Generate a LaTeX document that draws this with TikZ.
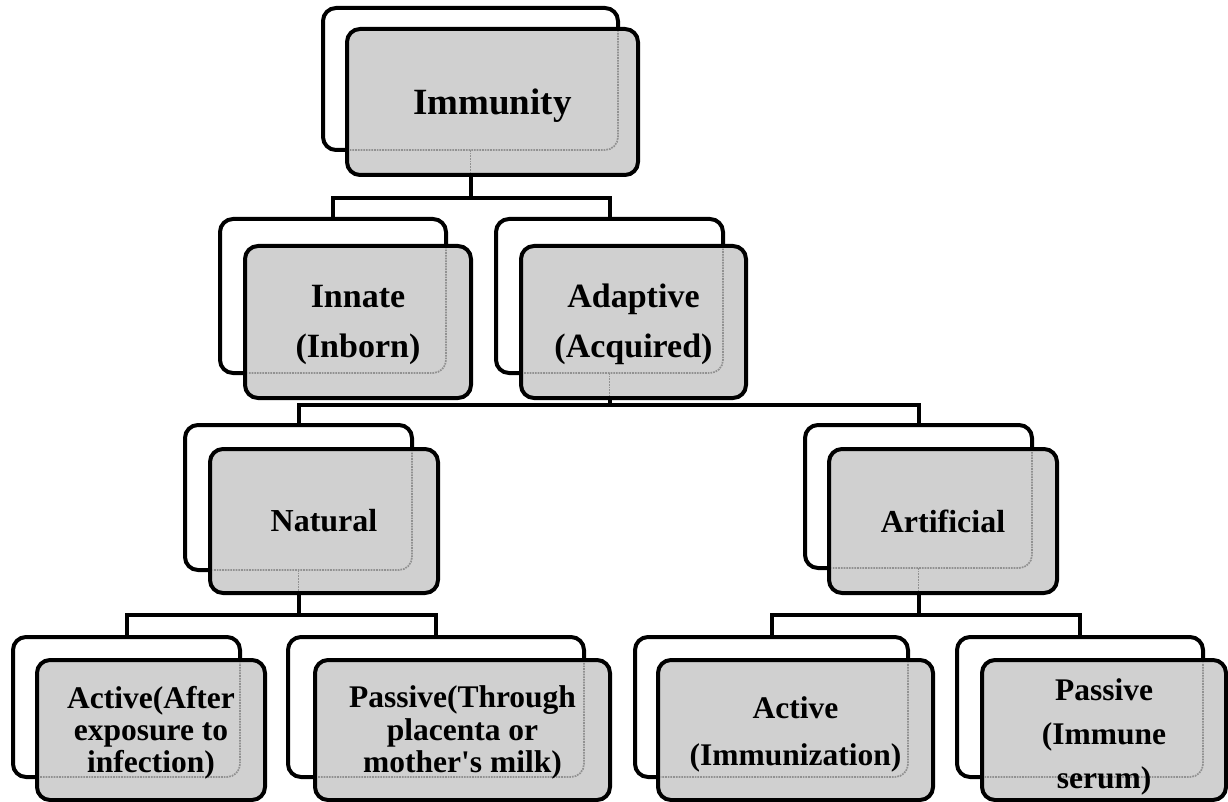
\documentclass[tikz,border=0pt]{standalone}
\usepackage{fontspec}
\setmainfont{Liberation Serif}[Ligatures=TeXOff]
\usetikzlibrary{calc}
\definecolor{boxgray}{RGB}{208,208,208}
\definecolor{ghostgray}{RGB}{145,145,145}
\newcommand\mkfront[4]{%
  \node[frontbox, minimum width=#3, minimum height=#4] (#1F) at (#2) {};
  \begin{scope}
    \clip[rounded corners=11pt] ($(#1F.south west)+(2.5,-2.5)$) rectangle ($(#1F.north east)+(-2.5,2.5)$);
    \draw[ghost, rounded corners=13pt] (#1B.south west) rectangle (#1B.north east);
  \end{scope}}
\newcommand\mkghostconn[1]{%
  \draw[ghost] (#1B.south) -- ($(#1B.south |- #1F.south)+(0,-2.5)$);}
\begin{document}
\begin{tikzpicture}[x=1pt,y=-1pt,
  box/.style={rectangle, draw=black, line width=4pt, rounded corners=13pt, inner sep=0pt, outer sep=0pt},
  backbox/.style={box, fill=white},
  frontbox/.style={box, fill=boxgray},
  conn/.style={draw=black, line width=4pt},
  ghost/.style={draw=ghostgray, line width=1.7pt, densely dotted},
  lbl/.style={align=center, inner sep=0pt, text=black}]

\useasboundingbox (0,0) rectangle (1228,802);

% back boxes
\node[backbox, minimum width=295pt, minimum height=142pt] (immB) at (470.5,79) {};
\node[backbox, minimum width=226pt, minimum height=154pt] (innB) at (333,296) {};
\node[backbox, minimum width=227pt, minimum height=154pt] (adaB) at (609.5,296) {};
\node[backbox, minimum width=227pt, minimum height=145pt] (natB) at (298.5,497.5) {};
\node[backbox, minimum width=227pt, minimum height=143pt] (artB) at (918.5,496.5) {};
\node[backbox, minimum width=227pt, minimum height=140pt] (anB) at (126.5,707) {};
\node[backbox, minimum width=296pt, minimum height=140pt] (pnB) at (436,707) {};
\node[backbox, minimum width=273pt, minimum height=140pt] (aaB) at (771.5,707) {};
\node[backbox, minimum width=246pt, minimum height=140pt] (paB) at (1080,707) {};

% connectors
\coordinate (bus1) at (0,198);
\coordinate (bus2) at (0,405);
\coordinate (bus3) at (0,615);
\draw[conn] (immB.south) -- (immB.south |- bus1);
\draw[conn] (innB.north) |- (adaB.north |- bus1) -- (adaB.north);
\draw[conn] (adaB.south) -- (adaB.south |- bus2);
\draw[conn] (natB.north) |- (artB.north |- bus2) -- (artB.north);
\draw[conn] (natB.south) -- (natB.south |- bus3);
\draw[conn] (anB.north) |- (pnB.north |- bus3) -- (pnB.north);
\draw[conn] (artB.south) -- (artB.south |- bus3);
\draw[conn] (aaB.north) |- (paB.north |- bus3) -- (paB.north);

% front boxes
\mkfront{imm}{492.5,102}{291pt}{146pt}
\mkfront{inn}{358,322}{226pt}{152pt}
\mkfront{ada}{633.5,322}{225pt}{152pt}
\mkfront{nat}{324,521}{228pt}{144pt}
\mkfront{art}{943,521}{228pt}{144pt}
\mkfront{an}{151,730}{228pt}{140pt}
\mkfront{pn}{462.5,730}{295pt}{140pt}
\mkfront{aa}{795.5,730}{275pt}{140pt}
\mkfront{pa}{1104,730}{244pt}{140pt}

\mkghostconn{imm}
\mkghostconn{ada}
\mkghostconn{nat}
\mkghostconn{art}

% labels
\node[lbl, font=\bfseries\fontsize{37}{40}\selectfont] (immT) at ($(immF)+(0,4)$) {Immunity};
\node[lbl, font=\bfseries\fontsize{34}{50}\selectfont] (innT) at ($(innF)+(0,2.5)$) {Innate\\(Inborn)};
\node[lbl, font=\bfseries\fontsize{34}{50}\selectfont] (adaT) at ($(adaF)+(0,2.5)$) {Adaptive\\(Acquired)};
\node[lbl, font=\bfseries\fontsize{32}{33}\selectfont] (natT) at (natF) {Natural};
\node[lbl, font=\bfseries\fontsize{32}{33}\selectfont] (artT) at (artF) {Artificial};
\node[lbl, font=\bfseries\fontsize{31.5}{32}\selectfont] (anT) at ($(anF)+(0,3)$) {Active(After\\exposure to\\infection)};
\node[lbl, font=\bfseries\fontsize{31.5}{32.5}\selectfont] (pnT) at ($(pnF)+(0,2.5)$) {Passive(Through\\placenta or\\mother's milk)};
\node[lbl, font=\bfseries\fontsize{31.5}{47}\selectfont] (aaT) at ($(aaF)+(0,4)$) {Active\\(Immunization)};
\node[lbl, font=\bfseries\fontsize{31.5}{44}\selectfont] (paT) at ($(paF)+(0,7)$) {Passive\\(Immune\\serum)};
\end{tikzpicture}
\end{document}
